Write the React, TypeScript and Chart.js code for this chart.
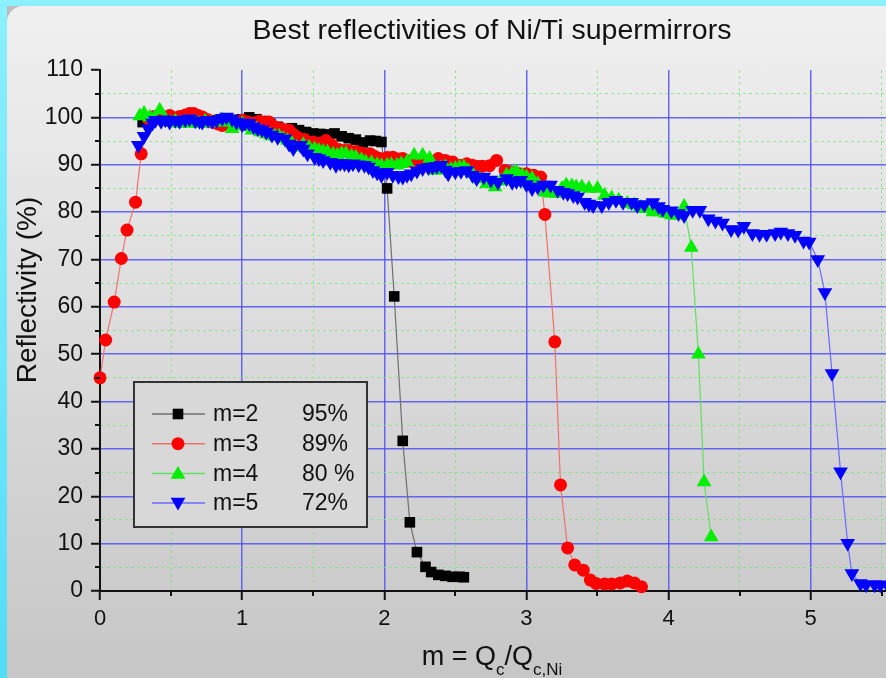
import React, { useEffect, useRef } from 'react';
import { Chart, registerables } from 'chart.js';

Chart.register(...registerables);

// ---------- data ----------
const xTickLabels = ['0', '1', '2', '3', '4', '5'];
const yTickLabels = ['0', '10', '20', '30', '40', '50', '60', '70', '80', '90', '100', '110'];

const seriesNames = ['m=2', 'm=3', 'm=4', 'm=5'];
const seriesBest = ['95%', '89%', '80 %', '72%'];

const m2X = [0.30, 0.35, 0.40, 0.45, 0.50, 0.55, 0.60, 0.65, 0.70, 0.75, 0.80, 0.85, 0.90, 0.95, 1.00, 1.05, 1.10, 1.15, 1.20, 1.25, 1.30, 1.35, 1.40, 1.45, 1.50, 1.55, 1.60, 1.65, 1.70, 1.75, 1.80, 1.85, 1.90, 1.94, 1.98, 2.02, 2.07, 2.13, 2.18, 2.23, 2.29, 2.33, 2.38, 2.43, 2.48, 2.53, 2.56];
const m2Y = [99.0, 99.8, 100.2, 99.6, 99.5, 99.8, 100.0, 99.7, 99.5, 99.2, 99.4, 99.0, 99.2, 99.5, 99.6, 100.0, 99.6, 99.2, 98.6, 98.0, 97.4, 97.7, 97.3, 96.9, 96.6, 96.5, 96.4, 96.6, 96.0, 95.6, 95.3, 94.7, 95.1, 95.0, 94.8, 85.0, 62.2, 31.7, 14.5, 8.2, 5.1, 4.0, 3.4, 3.2, 3.0, 3.0, 2.9];

const m3X = [0.00, 0.04, 0.10, 0.15, 0.19, 0.25, 0.29, 0.34, 0.38, 0.42, 0.46, 0.49, 0.53, 0.56, 0.60, 0.63, 0.66, 0.69, 0.72, 0.76, 0.79, 0.83, 0.86, 0.90, 0.93, 0.97, 1.00, 1.04, 1.08, 1.12, 1.16, 1.19, 1.23, 1.28, 1.33, 1.36, 1.39, 1.44, 1.50, 1.55, 1.59, 1.63, 1.68, 1.72, 1.75, 1.80, 1.84, 1.90, 1.93, 1.97, 2.02, 2.06, 2.10, 2.13, 2.18, 2.22, 2.27, 2.32, 2.38, 2.43, 2.48, 2.53, 2.58, 2.62, 2.66, 2.69, 2.74, 2.79, 2.85, 2.89, 2.95, 3.00, 3.05, 3.10, 3.13, 3.20, 3.24, 3.29, 3.34, 3.40, 3.45, 3.49, 3.55, 3.60, 3.66, 3.71, 3.76, 3.81];
const m3Y = [45.0, 53.0, 61.0, 70.2, 76.2, 82.1, 92.3, 99.7, 100.2, 100.4, 100.0, 100.4, 99.8, 100.2, 100.5, 100.8, 100.8, 100.4, 100.1, 99.5, 99.0, 98.6, 98.3, 98.8, 99.0, 99.2, 99.4, 99.0, 98.8, 99.2, 99.0, 99.0, 98.0, 97.6, 97.3, 96.4, 95.8, 95.3, 94.8, 94.6, 95.1, 94.2, 93.2, 93.0, 93.0, 92.8, 92.5, 92.3, 91.8, 91.3, 91.5, 91.6, 91.2, 91.3, 90.8, 90.9, 90.6, 90.8, 91.3, 90.9, 90.6, 89.9, 90.2, 89.9, 89.6, 89.7, 89.8, 90.9, 88.8, 88.5, 88.1, 88.1, 87.8, 87.4, 79.5, 52.6, 22.4, 9.1, 5.5, 4.4, 2.3, 1.6, 1.5, 1.5, 1.7, 2.1, 1.7, 0.9];

const m4X = [0.28, 0.31, 0.35, 0.38, 0.42, 0.46, 0.50, 0.53, 0.56, 0.60, 0.63, 0.67, 0.70, 0.74, 0.78, 0.82, 0.86, 0.89, 0.93, 0.97, 1.00, 1.04, 1.07, 1.10, 1.13, 1.17, 1.20, 1.23, 1.26, 1.29, 1.32, 1.35, 1.38, 1.43, 1.47, 1.51, 1.54, 1.57, 1.60, 1.64, 1.67, 1.70, 1.73, 1.77, 1.80, 1.84, 1.87, 1.91, 1.95, 1.98, 2.02, 2.05, 2.09, 2.12, 2.16, 2.21, 2.27, 2.32, 2.36, 2.40, 2.43, 2.47, 2.50, 2.53, 2.56, 2.59, 2.62, 2.67, 2.72, 2.78, 2.82, 2.86, 2.90, 2.93, 2.97, 3.00, 3.04, 3.08, 3.13, 3.17, 3.21, 3.25, 3.28, 3.32, 3.35, 3.39, 3.44, 3.50, 3.55, 3.60, 3.65, 3.71, 3.76, 3.80, 3.84, 3.89, 3.94, 3.98, 4.02, 4.05, 4.11, 4.16, 4.21, 4.25, 4.30];
const m4Y = [100.3, 100.8, 100.0, 99.8, 101.5, 99.5, 98.9, 99.2, 98.7, 99.0, 98.7, 99.0, 98.7, 99.2, 98.8, 99.0, 99.5, 98.9, 97.6, 98.2, 98.7, 98.0, 97.3, 97.5, 96.9, 96.5, 96.2, 96.0, 96.0, 95.5, 95.1, 94.5, 93.7, 94.2, 93.7, 93.3, 93.0, 92.8, 92.7, 92.2, 92.0, 92.3, 92.3, 91.8, 91.6, 91.0, 90.6, 90.4, 90.0, 89.8, 89.9, 90.0, 89.9, 90.2, 90.6, 92.0, 92.0, 91.3, 88.8, 89.3, 89.5, 89.0, 89.2, 89.4, 89.5, 88.8, 88.1, 87.0, 86.0, 85.3, 86.5, 87.8, 88.2, 88.5, 87.8, 87.4, 87.1, 86.0, 84.2, 84.0, 83.9, 85.0, 85.7, 85.5, 85.3, 85.3, 85.0, 85.0, 83.5, 83.0, 82.5, 81.8, 81.5, 81.0, 80.7, 80.0, 80.0, 79.7, 79.4, 79.3, 81.2, 72.5, 50.0, 23.0, 11.4];

const m5X = [0.27, 0.31, 0.34, 0.37, 0.39, 0.43, 0.46, 0.49, 0.53, 0.56, 0.60, 0.63, 0.67, 0.70, 0.72, 0.76, 0.79, 0.82, 0.86, 0.89, 0.93, 0.96, 1.00, 1.02, 1.05, 1.08, 1.11, 1.14, 1.17, 1.21, 1.25, 1.30, 1.33, 1.36, 1.41, 1.43, 1.46, 1.51, 1.54, 1.57, 1.62, 1.66, 1.69, 1.72, 1.75, 1.78, 1.82, 1.86, 1.89, 1.92, 1.95, 1.98, 2.02, 2.06, 2.10, 2.13, 2.16, 2.19, 2.23, 2.27, 2.31, 2.34, 2.37, 2.40, 2.43, 2.45, 2.50, 2.54, 2.58, 2.62, 2.65, 2.70, 2.75, 2.80, 2.86, 2.90, 2.93, 2.96, 3.00, 3.04, 3.08, 3.12, 3.17, 3.22, 3.26, 3.29, 3.33, 3.36, 3.41, 3.44, 3.47, 3.53, 3.58, 3.63, 3.68, 3.74, 3.78, 3.83, 3.89, 3.93, 3.96, 4.02, 4.07, 4.11, 4.17, 4.22, 4.28, 4.33, 4.38, 4.44, 4.49, 4.53, 4.59, 4.64, 4.69, 4.75, 4.79, 4.84, 4.89, 4.95, 4.99, 5.05, 5.10, 5.15, 5.21, 5.26, 5.29, 5.35, 5.39, 5.45, 5.49, 5.54];
const m5Y = [94.1, 96.0, 97.6, 98.8, 99.4, 99.2, 99.5, 99.0, 99.4, 99.2, 99.5, 99.7, 99.3, 99.2, 99.0, 99.4, 99.2, 99.4, 99.8, 100.1, 99.6, 99.0, 98.5, 98.8, 98.7, 98.0, 97.6, 97.4, 96.9, 96.3, 95.8, 95.5, 94.4, 93.4, 94.1, 93.3, 92.3, 91.6, 91.3, 90.9, 90.5, 89.9, 90.3, 90.2, 90.0, 90.2, 90.0, 89.9, 89.5, 88.8, 88.3, 87.8, 88.4, 87.8, 87.5, 87.4, 87.8, 88.1, 88.7, 89.2, 89.4, 89.5, 89.7, 89.9, 88.9, 88.1, 88.5, 88.6, 88.8, 87.8, 87.1, 87.4, 86.8, 86.3, 87.1, 86.3, 86.5, 86.7, 85.8, 85.0, 85.3, 85.7, 85.7, 84.6, 84.2, 83.9, 83.5, 83.2, 82.1, 81.7, 81.4, 81.4, 82.1, 82.5, 82.1, 82.1, 81.4, 81.6, 82.0, 81.2, 80.6, 80.3, 79.7, 79.3, 80.4, 80.4, 78.6, 78.1, 77.7, 76.3, 76.2, 77.0, 75.5, 75.3, 75.3, 75.5, 75.8, 75.5, 75.1, 73.9, 73.7, 70.0, 63.0, 45.9, 25.2, 10.1, 3.7, 1.6, 1.3, 1.3, 1.3, 1.2];

// ---------- styles ----------
const FONT = "'Liberation Sans', Arial, Helvetica, sans-serif";
const STYLES = [
  { line: '#707070', fill: '#000000', shape: 'rect', radius: 7.5, rotation: 0 },
  { line: '#f07070', fill: '#ff0000', shape: 'circle', radius: 6.5, rotation: 0 },
  { line: '#60e060', fill: '#00ee00', shape: 'triangle', radius: 8.5, rotation: 0 },
  { line: '#6a6aff', fill: '#0000ff', shape: 'triangle', radius: 8.5, rotation: 180 },
];
const BLUE_GRID = 'rgba(80,80,250,0.85)';
const GREEN_GRID = 'rgba(130,228,130,0.8)';

const toPoints = (xs: number[], ys: number[]) => xs.map((x, i) => ({ x, y: ys[i] }));

function drawMarker(ctx: CanvasRenderingContext2D, shape: string, x: number, y: number, r: number, rot: number, color: string) {
  ctx.save();
  ctx.fillStyle = color;
  ctx.beginPath();
  if (shape === 'rect') {
    const s = Math.SQRT1_2 * r;
    ctx.rect(x - s, y - s, 2 * s, 2 * s);
  } else if (shape === 'circle') {
    ctx.arc(x, y, r, 0, Math.PI * 2);
  } else {
    let a = (rot * Math.PI) / 180;
    ctx.moveTo(x + Math.sin(a) * r, y - Math.cos(a) * r);
    a += (2 * Math.PI) / 3;
    ctx.lineTo(x + Math.sin(a) * r, y - Math.cos(a) * r);
    a += (2 * Math.PI) / 3;
    ctx.lineTo(x + Math.sin(a) * r, y - Math.cos(a) * r);
    ctx.closePath();
  }
  ctx.fill();
  ctx.restore();
}

const isMajor = (v: number, step: number) => Math.abs(v / step - Math.round(v / step)) < 1e-6;

// Let the plot area run to the right edge of the canvas, as in the cropped original.
const stretchPlugin = {
  id: 'stretch',
  afterLayout(chart: any) {
    const xs = chart.scales.x;
    const R = chart.width;
    xs.right = R;
    xs.width = R - xs.left;
    xs.configure();
    chart.chartArea.right = R;
    chart.chartArea.width = R - chart.chartArea.left;
  },
};

const decorPlugin = {
  id: 'decor',
  afterDatasetsDraw(chart: any) {
    const { ctx, chartArea } = chart;
    // legend box
    const bx = chartArea.left + 34, by = chartArea.top + 312, bw = 233, bh = 145;
    ctx.save();
    ctx.fillStyle = '#d8d8d8';
    ctx.fillRect(bx, by, bw, bh);
    ctx.strokeStyle = '#333';
    ctx.lineWidth = 2;
    ctx.strokeRect(bx, by, bw, bh);
    ctx.font = `23px ${FONT}`;
    ctx.textBaseline = 'middle';
    ctx.textAlign = 'left';
    seriesNames.forEach((name, i) => {
      const st = STYLES[i];
      const ry = by + 32 + i * 29.7;
      ctx.strokeStyle = st.line;
      ctx.lineWidth = 1.5;
      ctx.beginPath();
      ctx.moveTo(bx + 18, ry);
      ctx.lineTo(bx + 71, ry);
      ctx.stroke();
      drawMarker(ctx, st.shape, bx + 44, ry + (st.shape === 'triangle' ? (st.rotation ? -1 : 1) : 0), st.radius, st.rotation, st.fill);
      ctx.fillStyle = '#111';
      ctx.fillText(name, bx + 79, ry + 1);
      ctx.fillText(seriesBest[i], bx + 168, ry + 1);
    });
    ctx.restore();
  },
  afterDraw(chart: any) {
    const { ctx, chartArea, scales } = chart;
    const xs = scales.x, ys = scales.y;
    ctx.save();
    // minor ticks
    ctx.strokeStyle = '#111';
    ctx.lineWidth = 2;
    ys.ticks.forEach((t: any) => {
      if (!isMajor(t.value, 10)) {
        const py = Math.round(ys.getPixelForValue(t.value));
        ctx.beginPath();
        ctx.moveTo(chartArea.left - 5, py);
        ctx.lineTo(chartArea.left, py);
        ctx.stroke();
      }
    });
    xs.ticks.forEach((t: any) => {
      if (!isMajor(t.value, 1)) {
        const px = Math.round(xs.getPixelForValue(t.value));
        ctx.beginPath();
        ctx.moveTo(px, chartArea.bottom);
        ctx.lineTo(px, chartArea.bottom + 5);
        ctx.stroke();
      }
    });
    // title
    ctx.fillStyle = '#111';
    ctx.font = `28.5px ${FONT}`;
    ctx.textAlign = 'center';
    ctx.textBaseline = 'alphabetic';
    ctx.fillText('Best reflectivities of Ni/Ti supermirrors', 492, 39);
    // y title
    ctx.save();
    ctx.translate(36, 290);
    ctx.rotate(-Math.PI / 2);
    ctx.font = `28px ${FONT}`;
    ctx.fillText('Reflectivity (%)', 0, 0);
    ctx.restore();
    // x title with subscripts
    const parts = [
      { t: 'm = Q', size: 27, dy: 0 },
      { t: 'c', size: 17, dy: 10 },
      { t: '/Q', size: 27, dy: 0 },
      { t: 'c,Ni', size: 17, dy: 10 },
    ];
    let total = 0;
    parts.forEach((p) => { ctx.font = `${p.size}px ${FONT}`; total += ctx.measureText(p.t).width; });
    let cx = 492 - total / 2;
    ctx.textAlign = 'left';
    parts.forEach((p) => {
      ctx.font = `${p.size}px ${FONT}`;
      ctx.fillText(p.t, cx, 665 + p.dy);
      cx += ctx.measureText(p.t).width;
    });
    ctx.restore();
  },
};

export default function App() {
  const ref = useRef<HTMLCanvasElement | null>(null);

  useEffect(() => {
    if (!ref.current) return;
    const datasets = [
      { label: seriesNames[0], data: toPoints(m2X, m2Y), order: 4 },
      { label: seriesNames[1], data: toPoints(m3X, m3Y), order: 3 },
      { label: seriesNames[2], data: toPoints(m4X, m4Y), order: 2 },
      { label: seriesNames[3], data: toPoints(m5X, m5Y), order: 1 },
    ].map((d, i) => ({
      ...d,
      showLine: true,
      clip: false,
      borderColor: STYLES[i].line,
      borderWidth: 1.2,
      backgroundColor: STYLES[i].fill,
      pointBackgroundColor: STYLES[i].fill,
      pointBorderColor: STYLES[i].fill,
      pointBorderWidth: 0,
      pointStyle: STYLES[i].shape,
      pointRotation: STYLES[i].rotation,
      pointRadius: STYLES[i].radius,
      tension: 0,
    }));

    const chart = new Chart(ref.current, {
      type: 'scatter',
      data: { datasets },
      options: {
        animation: false,
        responsive: false,
        maintainAspectRatio: false,
        layout: { padding: { top: 70, left: 0, right: 0, bottom: 0 } },
        plugins: { legend: { display: false }, tooltip: { enabled: false }, title: { display: false } },
        scales: {
          x: {
            type: 'linear',
            bounds: 'data',
            min: 0,
            max: 5.53,
            afterFit: (s: any) => { s.height = 87; },
            ticks: {
              stepSize: 0.5,
              includeBounds: false,
              autoSkip: false,
              maxRotation: 0,
              padding: 6,
              color: '#111',
              font: { size: 22, family: FONT },
              callback: (v: any) => (isMajor(Number(v), 1) ? xTickLabels[Math.round(Number(v))] : ''),
            },
            grid: {
              color: (c: any) => {
                const v = c.tick ? c.tick.value : 0;
                if (v === 0) return 'rgba(0,0,0,0)';
                return isMajor(v, 1) ? BLUE_GRID : GREEN_GRID;
              },
              lineWidth: (c: any) => (c.tick && isMajor(c.tick.value, 1) ? 1.5 : 1),
              tickLength: 9,
              tickWidth: 2,
              tickColor: (c: any) => (c.tick && isMajor(c.tick.value, 1) ? '#111' : 'rgba(0,0,0,0)'),
            },
            border: {
              display: true,
              color: '#111',
              width: 2,
              dash: (c: any) => (c.tick && !isMajor(c.tick.value, 1) ? [3, 3] : []),
            },
          },
          y: {
            type: 'linear',
            min: 0,
            max: 110,
            afterFit: (s: any) => { s.width = 100; },
            ticks: {
              stepSize: 5,
              autoSkip: false,
              padding: 8,
              color: '#111',
              font: { size: 23, family: FONT },
              callback: (v: any) => (isMajor(Number(v), 10) ? yTickLabels[Math.round(Number(v) / 10)] : ''),
            },
            grid: {
              color: (c: any) => {
                const v = c.tick ? c.tick.value : 0;
                if (v === 0 || v === 110) return 'rgba(0,0,0,0)';
                return isMajor(v, 10) ? BLUE_GRID : GREEN_GRID;
              },
              lineWidth: (c: any) => (c.tick && isMajor(c.tick.value, 10) ? 1.5 : 1),
              tickLength: 9,
              tickWidth: 2,
              tickColor: (c: any) => (c.tick && isMajor(c.tick.value, 10) ? '#111' : 'rgba(0,0,0,0)'),
            },
            border: {
              display: true,
              color: '#111',
              width: 2,
              dash: (c: any) => (c.tick && !isMajor(c.tick.value, 10) ? [3, 3] : []),
            },
          },
        },
      },
      plugins: [stretchPlugin, decorPlugin],
    } as any);
    return () => chart.destroy();
  }, []);

  return (
    <div style={{ position: 'fixed', left: 0, top: 0, width: 886, height: 678, overflow: 'hidden', background: 'linear-gradient(#8cf0ff, #52dcf6)' }}>
      <div style={{ position: 'absolute', left: 7, top: 6, right: 0, bottom: 0, background: '#bcbcbc' }}>
        <div style={{ position: 'absolute', inset: 0, borderTopLeftRadius: 16, background: 'linear-gradient(#f0f0f0, #eaeaea 15%, #c6c6c6)' }} />
      </div>
      <canvas ref={ref} width={886} height={678} style={{ position: 'absolute', left: 0, top: 0, width: 886, height: 678 }} />
    </div>
  );
}
